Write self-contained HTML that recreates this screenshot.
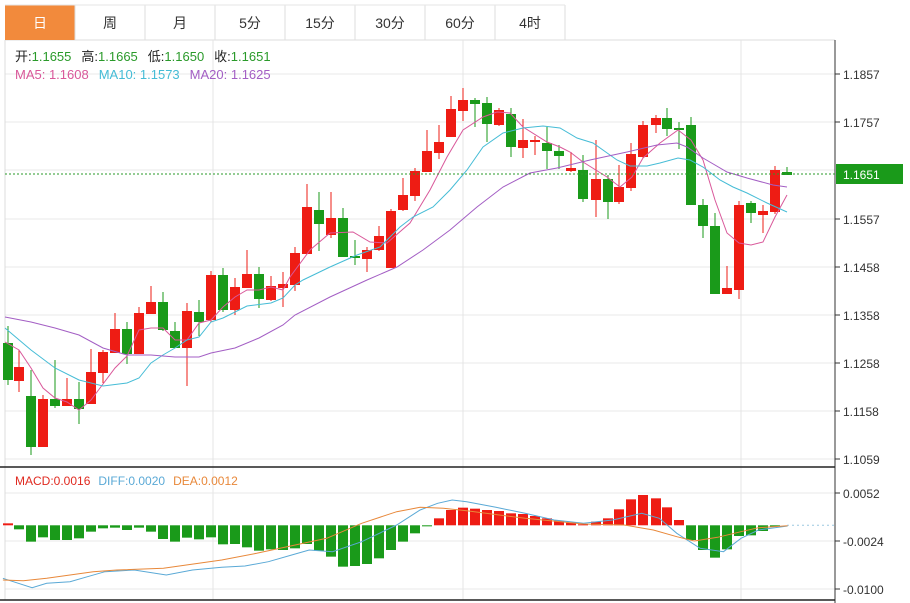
<!DOCTYPE html>
<html><head><meta charset="utf-8">
<style>
body{margin:0;background:#fff;width:910px;height:603px;overflow:hidden;font-family:"Liberation Sans","Noto Sans CJK SC",sans-serif}
svg{position:absolute;left:0;top:0}
</style></head><body>
<svg id="s" width="910" height="603" xmlns="http://www.w3.org/2000/svg" font-family="Liberation Sans, Noto Sans CJK SC, sans-serif"></svg>
<script>
var S=document.getElementById('s'),h='';
function L(x1,y1,x2,y2,c,w,d){h+='<line x1="'+x1+'" y1="'+y1+'" x2="'+x2+'" y2="'+y2+'" stroke="'+c+'" stroke-width="'+(w||1)+'"'+(d?' stroke-dasharray="'+d+'"':'')+'/>';}
function R(x,y,w,hh,c){h+='<rect x="'+x+'" y="'+y+'" width="'+w+'" height="'+hh+'" fill="'+c+'"/>';}
function T(x,y,t,c,s,a){h+='<text x="'+x+'" y="'+y+'" fill="'+c+'" font-size="'+(s||12)+'"'+(a?' text-anchor="'+a+'"':'')+'>'+t+'</text>';}
function P(pts,c,w){h+='<polyline fill="none" stroke="'+c+'" stroke-width="'+(w||1)+'" points="'+pts.map(function(p){return p.join(',')}).join(' ')+'"/>';}
// tabs
var tabs=['日','周','月','5分','15分','30分','60分','4时'];
L(5,40,835,40,'#ddd');
for(var i=0;i<tabs.length;i++){var x=5+i*70;
 if(i==0)R(x,5,70,35,'#f28a3c');
 L(x+70,5,x+70,40,'#ddd');
 T(x+35,28,tabs[i],i==0?'#fff':'#333',14,'middle');}
L(5,5,565,5,'#e6e6e6');
// grids
var py=[74,122,170,219,267,315,363,411,459],pl=['1.1857','1.1757','','1.1557','1.1458','1.1358','1.1258','1.1158','1.1059'];
for(i=0;i<py.length;i++){L(5,py[i],835,py[i],'#e8e8e8');if(pl[i]){L(835,py[i],840,py[i],'#333');T(843,py[i]+5,pl[i],'#333',12);}}
[213,463,741].forEach(function(x){L(x,40,x,600,'#e4e4e4');});
[493,541,589].forEach(function(y,k){L(5,y,835,y,'#e8e8e8');L(835,y,840,y,'#333');T(843,y+5,['0.0052','-0.0024','-0.0100'][k],'#333',12);});
L(5,40,5,600,'#ddd');
L(835,40,835,603,'#333');
L(0,467,835,467,'#222',1.5);L(0,600,835,600,'#222',1.5);
// candles [x,bodyTop,bodyBot,hi,lo,up]
var G='#1a9a1a',Rd='#ee1c14';
var C=[[8,343,380,326,385,0],[19,367,381,350,392,1],[31,396,447,370,455,0],[43,399,447,395,447,1],[55,399,406,360,408,0],[67,399,406,378,406,1],[79,399,409,382,424,0],[91,372,404,349,404,1],[103,352,373,350,383,1],[115,329,353,313,353,1],[127,329,354,322,364,0],[139,313,354,307,354,1],[151,302,314,286,314,1],[163,302,330,292,331,0],[175,331,348,322,348,0],[187,311,348,303,386,1],[199,312,322,300,336,0],[211,275,320,271,322,1],[223,275,310,268,312,0],[235,287,310,278,315,1],[247,274,288,250,288,1],[259,274,299,267,308,0],[271,286,300,276,301,1],[283,284,288,272,307,1],[295,253,285,247,291,1],[307,207,254,184,254,1],[319,210,224,192,251,0],[331,218,235,192,238,1],[343,218,257,208,257,0],[355,256,258,240,265,0],[367,250,259,247,272,1],[379,236,250,226,251,1],[391,211,268,209,268,1],[403,195,210,178,211,1],[415,171,196,168,201,1],[427,151,172,130,172,1],[439,142,153,125,159,1],[451,109,137,96,137,1],[463,100,111,88,121,1],[475,100,104,98,127,0],[487,103,124,97,142,0],[499,110,125,108,126,1],[511,114,147,108,157,0],[523,140,148,119,158,1],[535,140,142,136,155,1],[547,143,151,127,169,0],[559,151,156,145,169,0],[571,168,171,152,172,1],[583,170,199,155,202,0],[596,179,200,140,217,1],[608,179,202,175,219,0],[619,187,202,165,204,1],[631,154,188,143,191,1],[643,125,157,121,158,1],[656,118,125,115,133,1],[667,118,129,108,136,0],[679,128,130,122,149,0],[691,125,205,117,205,0],[703,205,226,199,238,0],[715,226,294,213,294,0],[727,288,294,266,294,1],[739,205,290,201,299,1],[751,203,213,201,223,0],[763,211,215,205,233,1],[775,170,212,166,214,1],[787,172,175,167,175,0]];
C.forEach(function(c){var col=c[5]?Rd:G;L(c[0],c[3],c[0],c[4],col,1);R(c[0]-5,c[1],10,Math.max(1.5,c[2]-c[1]),col);});
// MA lines
P([[5,342],[19,350],[31,368],[43,388],[55,398],[67,402],[79,410],[91,400],[103,384],[115,368],[127,356],[139,330],[151,328],[163,328],[175,340],[187,340],[199,323],[211,320],[223,307],[235,297],[247,290],[259,290],[271,287],[283,290],[290,277],[310,250],[330,233],[353,232],[370,242],[387,243],[410,223],[430,190],[447,157],[463,130],[483,117],[497,112],[510,113],[523,127],[547,142],[560,147],[570,152],[583,162],[607,177],[620,187],[632,177],[643,158],[660,143],[678,130],[691,140],[703,160],[715,200],[727,233],[739,243],[751,245],[763,242],[775,217],[787,195]],'#d9589a');
P([[5,328],[31,350],[55,368],[79,380],[103,386],[127,383],[139,378],[151,363],[163,355],[175,348],[187,340],[199,337],[211,322],[223,318],[247,306],[271,303],[283,298],[295,285],[303,280],[330,267],[357,255],[380,247],[400,227],[413,217],[433,207],[450,190],[467,170],[483,147],[503,133],[523,128],[543,126],[560,128],[577,138],[593,143],[617,160],[630,166],[647,166],[660,163],[678,158],[690,160],[703,167],[720,180],[733,187],[747,193],[767,203],[787,212]],'#45bcd6');
P([[5,317],[31,322],[55,328],[79,335],[103,348],[127,355],[151,355],[175,357],[199,357],[211,353],[235,348],[259,338],[283,325],[295,315],[330,297],[367,280],[397,267],[423,250],[450,230],[477,207],[503,187],[530,173],[557,168],[590,160],[627,152],[657,145],[677,143],[687,147],[703,158],[727,172],[747,178],[773,185],[787,187]],'#a35ec4');
// current price
L(5,174,835,174,'#2a9a2a',1,'2,2');
R(836,164,67,20,'#1a9a1a');T(843,179,'1.1651','#fff',12);
// MACD bars
var bx=[8,19,31,43,55,67,79,91,103,115,127,139,151,163,175,187,199,211,223,235,247,259,271,283,295,307,319,331,343,355,367,379,391,403,415,427,439,451,463,475,487,499,511,523,535,547,559,571,583,596,608,619,631,643,656,667,679,691,703,715,727,739,751,763,775];
var bY=[190,208,245,232,240,240,235,215,205,203,210,203,215,237,245,233,238,232,253,252,262,272,268,270,265,252,272,290,320,318,312,295,270,245,220,199,175,150,143,146,150,153,160,162,168,175,182,188,193,185,175,148,118,105,115,142,180,240,270,293,268,228,226,213,200];
var z=525.3;
bx.forEach(function(x,k){var y=460+bY[k]/3;var up=y<z;R(x-5,Math.min(y,z),10,Math.max(1,Math.abs(y-z)),up?Rd:G);});
L(787,z,835,z,'#9cc8e0',1,'2,3');
function cv(a){return a.map(function(p){return [(p[0]/1.714).toFixed(1),(460+p[1]/3).toFixed(1)];});}
P(cv([[5,355],[55,383],[80,370],[120,365],[150,350],[180,335],[230,330],[285,345],[330,330],[380,322],[420,318],[460,305],[500,285],[530,270],[570,275],[620,245],[680,195],[720,150],[750,130],[775,120],[800,125],[850,142],[900,160],[950,180],[1000,190],[1050,180],[1100,160],[1130,175],[1160,220],[1200,265],[1240,275],[1270,235],[1300,210],[1350,198]]),'#5aa9d6');
P(cv([[5,360],[40,362],[80,355],[160,335],[200,330],[280,325],[380,300],[440,280],[480,265],[560,235],[620,190],[680,155],[720,142],[760,145],[800,152],[900,175],[1000,192],[1070,195],[1120,210],[1160,230],[1190,243],[1230,232],[1270,215],[1300,203],[1350,197]]),'#e8883a');
// legends
h+='<text x="15" y="61" font-size="13"><tspan fill="#222">开:</tspan><tspan fill="#2a9a2a">1.1655</tspan><tspan fill="#222" dx="10">高:</tspan><tspan fill="#2a9a2a">1.1665</tspan><tspan fill="#222" dx="10">低:</tspan><tspan fill="#2a9a2a">1.1650</tspan><tspan fill="#222" dx="10">收:</tspan><tspan fill="#2a9a2a">1.1651</tspan></text>';
h+='<text x="15" y="79" font-size="13"><tspan fill="#d9589a">MA5: 1.1608</tspan><tspan fill="#45bcd6" dx="10">MA10: 1.1573</tspan><tspan fill="#a35ec4" dx="10">MA20: 1.1625</tspan></text>';
h+='<text x="15" y="485" font-size="12"><tspan fill="#e02a20">MACD:0.0016</tspan><tspan fill="#5aa9d6" dx="8">DIFF:0.0020</tspan><tspan fill="#e8883a" dx="8">DEA:0.0012</tspan></text>';
S.innerHTML=h;
</script>
</body></html>
